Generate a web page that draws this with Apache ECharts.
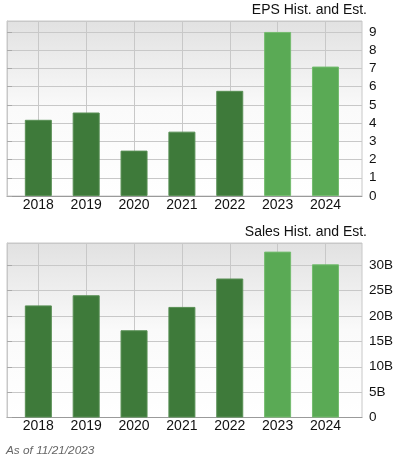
<!DOCTYPE html>
<html>
<head>
<meta charset="utf-8">
<script src="https://cdn.jsdelivr.net/npm/echarts@6/dist/echarts.min.js"></script>
<style>
html, body { margin: 0; padding: 0; background: #fff; }
#main { width: 403px; height: 467px; }
</style>
</head>
<body>
<div id="main"></div>
<script>
// data
var years = ['2018', '2019', '2020', '2021', '2022', '2023', '2024'];
var eps = [4.18, 4.58, 2.49, 3.53, 5.77, 9.0, 7.1];
var sales = [22.1, 24.1, 17.2, 21.8, 27.4, 32.7, 30.2];   // billions
var firstEstimate = 5;   // 2023 and 2024 are estimates
var epsMax = 9.6, salesMax = 34.4;

var myChart = echarts.init(document.getElementById('main'));

var font = 'Liberation Sans, Arial, sans-serif';
var histColor = '#3e7a3a', estColor = '#5aaa55';
var histEdge = '#588f54', estEdge = '#74bc6f';
var bg = new echarts.graphic.LinearGradient(0, 0, 0, 1, [
    { offset: 0, color: '#e1e1e1' },
    { offset: 0.5, color: '#fafafa' },
    { offset: 1, color: '#ffffff' }
]);

function barColor(p) {
    return p.dataIndex >= firstEstimate ? estColor : histColor;
}
function barEdge(i) {
    return i >= firstEstimate ? estEdge : histEdge;
}
function barData(vals) {
    return vals.map(function (v, i) {
        return { value: v, itemStyle: { borderColor: barEdge(i) } };
    });
}

// wide grid = background, y axis; narrow grid = bars and year labels
function wideGrid(top, h) {
    return { left: 7, top: top, width: 355, height: h, show: true,
             backgroundColor: bg, borderColor: '#c8c8c8', borderWidth: 1 };
}
function narrowGrid(top, h) {
    return { left: 14.4, top: top, width: 335, height: h };
}
function wideX(gi) {
    return { gridIndex: gi, type: 'value', min: 0, max: 1,
             axisLine: { show: true, onZero: false, lineStyle: { color: '#9a9a9a' } },
             axisTick: { show: false }, axisLabel: { show: false }, splitLine: { show: false } };
}
function yearX(gi) {
    return { gridIndex: gi, type: 'category', data: years,
             axisLine: { show: false }, axisTick: { show: false },
             axisLabel: { color: '#111', fontFamily: font, fontSize: 14, margin: 2 },
             splitLine: { show: true, alignWithLabel: true, lineStyle: { color: '#c8c8c8' } } };
}
function valueY(gi, max, interval, fmt) {
    return { gridIndex: gi, type: 'value', position: 'right', min: 0, max: max, interval: interval,
             axisLine: { show: true, lineStyle: { color: '#c8c8c8' } },
             axisTick: { show: true, length: 5, lineStyle: { color: '#aaa' } },
             axisLabel: { color: '#111', fontFamily: font, fontSize: 13.5, margin: 7, formatter: fmt,
                          showMaxLabel: false },
             splitLine: { show: true, lineStyle: { color: '#c8c8c8' } } };
}
function hiddenY(gi, max) {
    return { gridIndex: gi, type: 'value', min: 0, max: max, show: false };
}

var option = {
    animation: false,
    grid: [wideGrid(21, 175), narrowGrid(21, 175), wideGrid(243, 174.5), narrowGrid(243, 174.5)],
    xAxis: [wideX(0), yearX(1), wideX(2), yearX(3)],
    yAxis: [
        valueY(0, epsMax, 1, function (v) { return v % 1 === 0 ? String(v) : ''; }),
        hiddenY(1, epsMax),
        valueY(2, salesMax, 5, function (v) { return v === 0 ? '0' : (v % 5 === 0 ? v + 'B' : ''); }),
        hiddenY(3, salesMax)
    ],
    graphic: [
        { type: 'text', right: 36, top: 3,
          style: { text: 'EPS Hist. and Est.', fill: '#111', font: '14px ' + font } },
        { type: 'text', right: 36, top: 225,
          style: { text: 'Sales Hist. and Est.', fill: '#111', font: '14px ' + font } },
        { type: 'text', left: 6, top: 445,
          style: { text: 'As of 11/21/2023', fill: '#666', font: 'italic 11.8px ' + font } }
    ],
    series: [
        { name: 'EPS', type: 'bar', xAxisIndex: 1, yAxisIndex: 1, data: barData(eps), barWidth: 27,
          itemStyle: { color: barColor, borderWidth: 1 } },
        { name: 'Sales', type: 'bar', xAxisIndex: 3, yAxisIndex: 3, data: barData(sales), barWidth: 27,
          itemStyle: { color: barColor, borderWidth: 1 } }
    ]
};
myChart.setOption(option);
</script>
</body>
</html>
